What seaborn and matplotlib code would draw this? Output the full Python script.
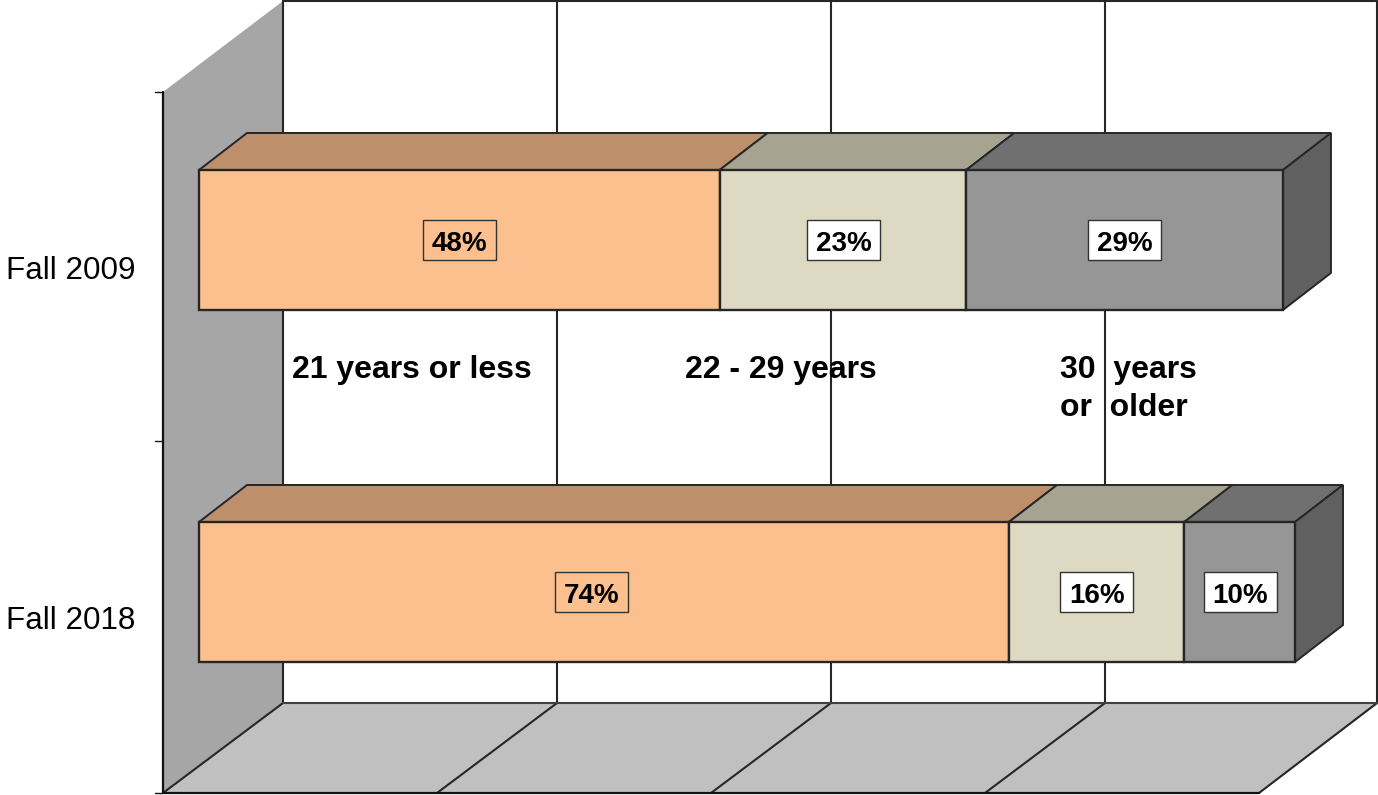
import numpy as np
import pandas as pd
import seaborn as sns
import matplotlib.pyplot as plt
from matplotlib.patches import Polygon, Rectangle

# Data
terms = ["Fall 2009", "Fall 2018"]
groups = ["21 years or less", "22 - 29 years", "30  years\nor  older"]
young = [47.5, 73.9]
middle = [22.5, 16.0]
older = [28.9, 10.1]
young_labels = ["48%", "74%"]
middle_labels = ["23%", "16%"]
older_labels = ["29%", "10%"]
grid_values = [0, 25, 50, 75, 100]

W, H = 1378, 795
PX_PER_PCT = 10.96
PX_PER_CAT = 352
LINE = "#262626"

sns.set_style("white")
plt.rcParams["font.family"] = ["Liberation Sans", "DejaVu Sans"]

fig = plt.figure(figsize=(W / 100, H / 100), dpi=100)

# Backdrop of the fake 3D box, in pixel units
scene = fig.add_axes([0, 0, 1, 1])
scene.set_xlim(0, W)
scene.set_ylim(H, 0)
scene.axis("off")

front_x, back_x = 163, 283
front_bottom, back_bottom = 793, 703
front_top, back_top = 92, 1

scene.add_patch(Polygon([(front_x, front_bottom), (back_x, back_bottom), (back_x, back_top), (front_x, front_top)],
                        facecolor="#A6A6A6", edgecolor="none"))
floor_right = front_x + 100 * PX_PER_PCT
scene.add_patch(Polygon([(front_x, front_bottom), (back_x, back_bottom), (back_x + 100 * PX_PER_PCT, back_bottom), (floor_right, front_bottom)],
                        facecolor="#C0C0C0", edgecolor="none"))

for v in grid_values:
    bx = min(back_x + v * PX_PER_PCT, W - 1)
    fx = front_x + v * PX_PER_PCT
    scene.plot([bx, bx], [back_top, back_bottom], color=LINE, lw=1.5)
    scene.plot([fx, bx], [front_bottom, back_bottom], color=LINE, lw=1.5)
scene.plot([back_x, W - 1], [back_top, back_top], color=LINE, lw=1.5)
scene.plot([back_x, W - 1], [back_bottom, back_bottom], color="#404040", lw=1.5)
scene.plot([front_x, floor_right], [front_bottom, front_bottom], color="#111111", lw=1.6)
scene.plot([front_x, front_x], [front_top, front_bottom], color="#111111", lw=1.6)
for ty in [front_top, 441, front_bottom]:
    scene.plot([front_x - 8, front_x], [ty, ty], color="#111111", lw=1)

# Bars live on their own axes, scaled in percent and categories
ax = fig.add_axes([0, 0, 1, 1])
ax.patch.set_alpha(0)

series = [
    (young, young_labels, "#FCC08E", "#BD8F6B", "none", [0, -12.5]),
    (middle, middle_labels, "#DDD9C3", "#A6A491", "white", [0.5, 0]),
    (older, older_labels, "#969696", "#707070", "white", [0, 0.5]),
]
depth_x = 48 / PX_PER_PCT
depth_y = 37 / PX_PER_CAT
bar_height = 140 / PX_PER_CAT
box_w = 73 / PX_PER_PCT
box_h = 40 / PX_PER_CAT

lefts = np.zeros(len(terms))
for values, labels, face, top, box, nudges in series:
    df = pd.DataFrame({"term": terms, "value": values})
    n_before = len(ax.patches)
    sns.barplot(data=df, x="value", y="term", order=terms, orient="y", left=lefts,
                width=bar_height, color=face, saturation=1, edgecolor=LINE, linewidth=1.7,
                zorder=3, ax=ax)
    for bar, label, nudge in zip(list(ax.patches[n_before:]), labels, nudges):
        x0, y0 = bar.get_x(), bar.get_y()
        x1, y1 = x0 + bar.get_width(), y0 + bar.get_height()
        ax.add_patch(Polygon([(x0, y0), (x0 + depth_x, y0 - depth_y), (x1 + depth_x, y0 - depth_y), (x1, y0)],
                             facecolor=top, edgecolor=LINE, linewidth=1.4, zorder=2))
        cx = (x0 + x1) / 2 + nudge / PX_PER_PCT
        cy = (y0 + y1) / 2
        ax.add_patch(Rectangle((cx - box_w / 2, cy - box_h / 2), box_w, box_h, facecolor=box,
                               edgecolor="#333333", linewidth=1, zorder=4))
        ax.text(cx, cy + 4 / PX_PER_CAT, label, ha="center", va="center",
                fontsize=20, fontweight="bold", color="black", zorder=5)
    lefts = lefts + np.array(values)

# right-hand end of each stack
for i, total in enumerate(lefts):
    y0 = i - bar_height / 2
    y1 = i + bar_height / 2
    ax.add_patch(Polygon([(total, y0), (total + depth_x, y0 - depth_y), (total + depth_x, y1 - depth_y), (total, y1)],
                         facecolor="#606060", edgecolor=LINE, linewidth=1.4, zorder=2))

ax.set_xlim(-199 / PX_PER_PCT, (W - 199) / PX_PER_PCT)
ax.set_ylim(1 + (H - 592) / PX_PER_CAT, -240 / PX_PER_CAT)
ax.axis("off")

# Category labels
for term, py in zip(terms, [271, 621]):
    fig.text(135 / W, 1 - py / H, term, ha="right", va="center", fontsize=22.6, color="black")

# Series names sit inside the plot
for group, px in zip(groups, [292, 685, 1060]):
    fig.text(px / W, 1 - 355 / H, group, ha="left", va="top", fontsize=23, fontweight="bold",
             color="black", linespacing=1.33)

fig.savefig("out.png", dpi=100)
